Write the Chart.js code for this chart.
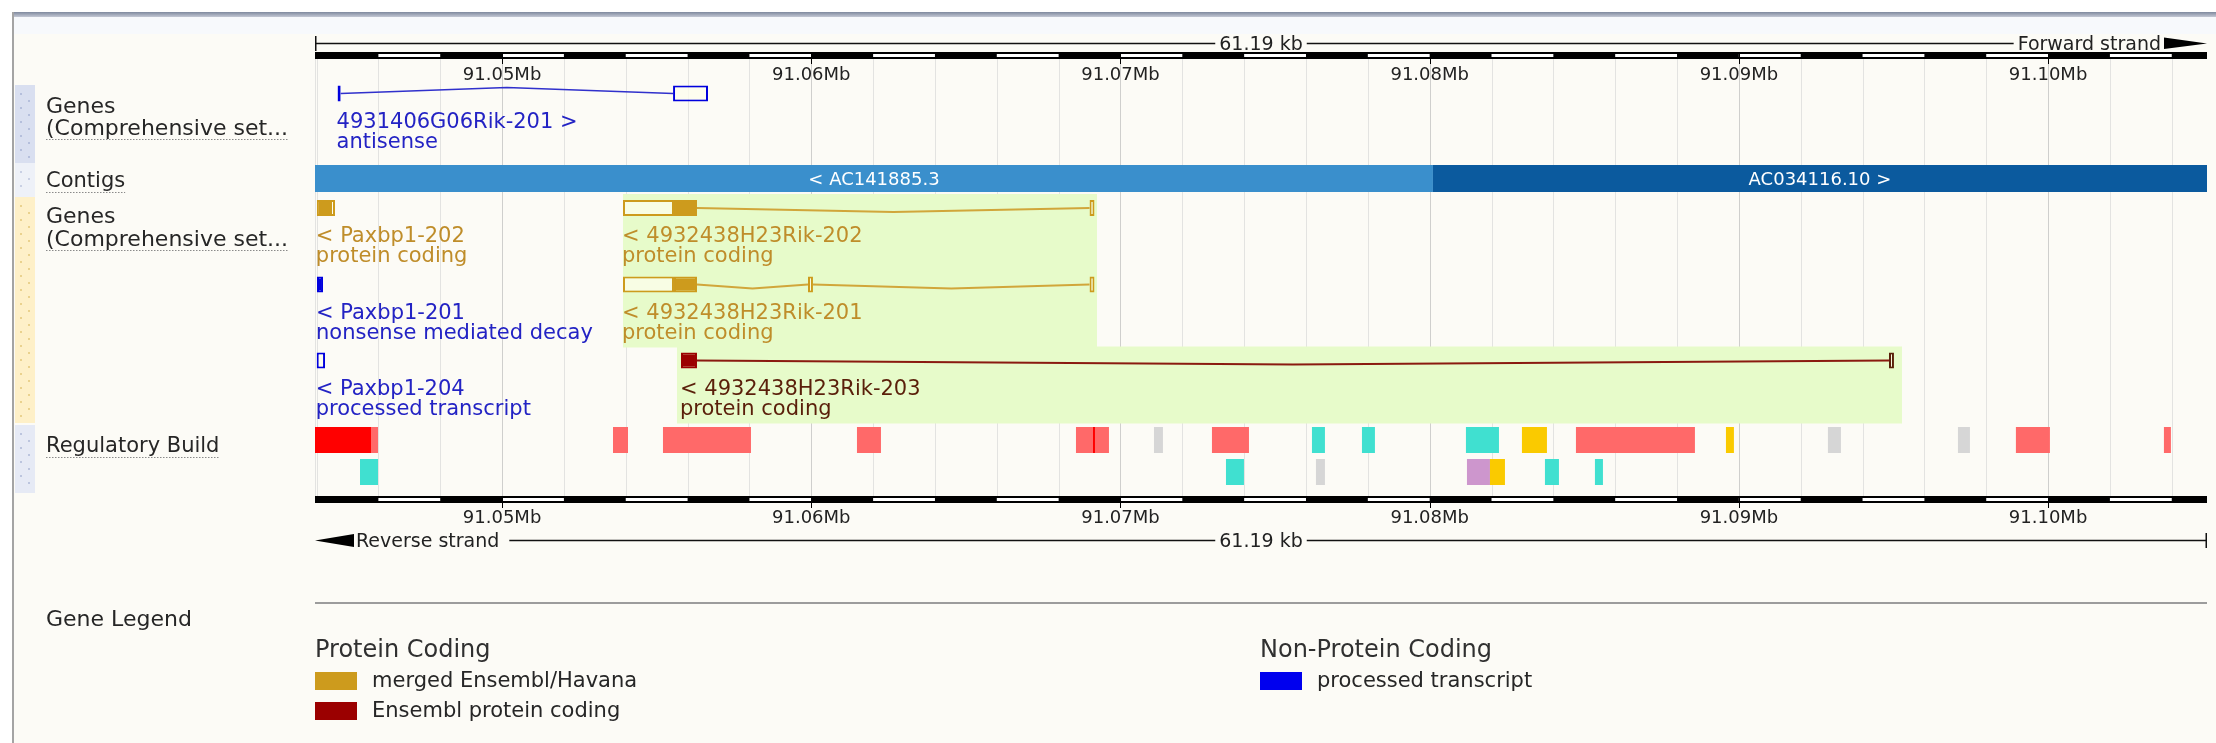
<!DOCTYPE html>
<html>
<head>
<meta charset="utf-8">
<script src="https://cdn.jsdelivr.net/npm/chart.js@4.4.1/dist/chart.umd.min.js"></script>
<style>
  html, body { margin: 0; padding: 0; background: #ffffff; overflow: hidden; }
  canvas { display: block; }
</style>
</head>
<body>
<canvas id="view" width="2216" height="743"></canvas>
<script>
// ---- Region shown (chromosome coordinates, bp) ----
const VIEW_START = 91043950;
const VIEW_END = 91105140;
const SPAN_LABEL = '61.19 kb';
const MINOR_STEP = 2000;
const MAJOR_TICKS = [91050000, 91060000, 91070000, 91080000, 91090000, 91100000];
const TICK_LABELS = ['91.05Mb', '91.06Mb', '91.07Mb', '91.08Mb', '91.09Mb', '91.10Mb'];

// ---- Contigs ----
const contigNames = ['< AC141885.3', 'AC034116.10 >'];
const contigStarts = [91020000, 91080106];
const contigEnds = [91080106, 91140000];
const contigKinds = ['light', 'dark'];

// ---- Transcripts ----
const transcriptNames = ['4931406G06Rik-201 >', '< Paxbp1-202', '< 4932438H23Rik-202', '< Paxbp1-201',
  '< 4932438H23Rik-201', '< Paxbp1-204', '< 4932438H23Rik-203'];
const transcriptBiotypes = ['antisense', 'protein coding', 'protein coding', 'nonsense mediated decay',
  'protein coding', 'processed transcript', 'protein coding'];
const transcriptSources = ['noncoding', 'merged', 'merged', 'noncoding', 'merged', 'noncoding', 'ensembl'];
const transcriptStrands = [1, -1, -1, -1, -1, -1, -1];
const transcriptRows = [0, 1, 1, 2, 2, 3, 3];
// exon pieces: [start, end, 'C' coding | 'U' untranslated]
const transcriptExons = [
  [[91044680, 91044780, 'U'], [91055530, 91056660, 'U']],
  [[91044010, 91044435, 'C'], [91044435, 91044597, 'U']],
  [[91053911, 91055560, 'U'], [91055560, 91056304, 'C'], [91069000, 91069160, 'U']],
  [[91044015, 91044210, 'C']],
  [[91053911, 91055560, 'U'], [91055560, 91056304, 'C'], [91059894, 91060055, 'U'], [91069000, 91069160, 'U']],
  [[91044005, 91044275, 'U']],
  [[91055787, 91056304, 'C'], [91094855, 91095016, 'U']]
];

// ---- Gene highlight extents (lower gene track) ----
const highlightStarts = [91053911, 91055657];
const highlightEnds = [91069241, 91095275];
const highlightFirstRow = [1, 3];
const highlightLastRow = [2, 3];

// ---- Regulatory Build ----
const regStarts = [91043950, 91045761, 91053587, 91055204, 91061478, 91068561, 91069111, 91071083, 91072959,
  91076193, 91077810, 91081173, 91082984, 91084731, 91089582, 91092880, 91097085, 91098960, 91103747,
  91045405, 91073412, 91076322, 91081206, 91081950, 91083728, 91085345];
const regEnds = [91045761, 91045987, 91054072, 91058050, 91062254, 91069628, 91069175, 91071374, 91074156,
  91076613, 91078230, 91082241, 91083793, 91088579, 91089840, 91093301, 91097473, 91100060, 91103973,
  91045987, 91073994, 91076613, 91081950, 91082435, 91084181, 91085604];
const regTypes = ['promoter', 'flank', 'flank', 'flank', 'flank', 'flank', 'promoter', 'open', 'flank',
  'ctcf', 'ctcf', 'ctcf', 'enhancer', 'flank', 'enhancer', 'open', 'open', 'flank', 'flank',
  'ctcf', 'ctcf', 'open', 'tf', 'enhancer', 'ctcf', 'ctcf'];
const regRows = [0, 0, 0, 0, 0, 0, 0, 0, 0, 0, 0, 0, 0, 0, 0, 0, 0, 0, 0, 1, 1, 1, 1, 1, 1, 1];

// ---- Legend ----
const legendGroups = ['Protein Coding', 'Non-Protein Coding'];
const legendItems = [['merged Ensembl/Havana', 'Ensembl protein coding'], ['processed transcript']];
const legendKinds = [['merged', 'ensembl'], ['processed']];

// ---- Styling / layout ----
const FONT = '"DejaVu Sans", Verdana, sans-serif';
const ROW_Y = [93.5, 208, 284.5, 360.5];
const REG_ROW_Y = [440, 472];
const EXON_H = 16;
const CONTIG_Y = 178.5, CONTIG_H = 27;
const SOURCE_FILL = { merged: '#cd9b1d', ensembl: '#9b0000', noncoding: '#0000dd', processed: '#0000ee' };
const SOURCE_LINE = { merged: '#d1a63a', ensembl: '#8a1a10', noncoding: '#3030cc' };
const SOURCE_TEXT = { merged: '#bf8d2a', ensembl: '#5a1f0a', noncoding: '#2323c4' };
const CONTIG_FILL = { light: '#3a8fcc', dark: '#0b5a9e' };
const REG_FILL = { promoter: '#ff0000', flank: '#ff6969', ctcf: '#40e0d0', enhancer: '#faca00',
  tf: '#cd96cd', open: '#d6d6d6' };
const HL_FILL = '#e7fbca';

// ---- Build datasets ----
const datasets = [];

// gene highlights, one dataset per block (different heights)
highlightStarts.forEach((s, i) => {
  const top = ROW_Y[highlightFirstRow[i]] - 14;
  const bottom = ROW_Y[highlightLastRow[i]] + 63;
  datasets.push({
    type: 'bar', indexAxis: 'y', grouped: false, order: 20,
    data: [{ x: [s, highlightEnds[i]], y: (top + bottom) / 2 }],
    barThickness: bottom - top, backgroundColor: HL_FILL, borderWidth: 0, inflateAmount: 0
  });
});

// contigs
datasets.push({
  type: 'bar', indexAxis: 'y', grouped: false, order: 15,
  data: contigStarts.map((s, i) => ({ x: [s, contigEnds[i]], y: CONTIG_Y })),
  barThickness: CONTIG_H,
  backgroundColor: contigKinds.map(k => CONTIG_FILL[k]), borderWidth: 0, inflateAmount: 0
});

// regulatory features
datasets.push({
  type: 'bar', indexAxis: 'y', grouped: false, order: 15,
  data: regStarts.map((s, i) => ({ x: [s, regEnds[i]], y: REG_ROW_Y[regRows[i]] })),
  barThickness: 26,
  backgroundColor: regTypes.map(t => REG_FILL[t]), borderWidth: 0, inflateAmount: 0
});

// introns as carets between consecutive exon pieces
transcriptExons.forEach((exons, t) => {
  const src = transcriptSources[t];
  const yc = ROW_Y[transcriptRows[t]];
  const lift = transcriptStrands[t] > 0 ? -6 : 4;
  for (let k = 1; k < exons.length; k++) {
    const a = exons[k - 1][1], b = exons[k][0];
    if (b <= a) continue;
    datasets.push({
      type: 'line', order: 8,
      data: [{ x: a, y: yc }, { x: (a + b) / 2, y: yc + lift }, { x: b, y: yc }],
      borderColor: SOURCE_LINE[src], borderWidth: src === 'noncoding' ? 1.6 : 2,
      pointRadius: 0, fill: false, tension: 0
    });
  }
});

// exons
const exonPts = [], exonFill = [], exonBorder = [];
transcriptExons.forEach((exons, t) => {
  const src = transcriptSources[t];
  const colour = SOURCE_FILL[src];
  exons.forEach(([s, e, kind]) => {
    exonPts.push({ x: [s, e], y: ROW_Y[transcriptRows[t]] });
    exonFill.push(kind === 'C' ? colour : 'rgba(253,253,236,0.75)');
    exonBorder.push(kind === 'C' ? colour : (src === 'ensembl' ? '#5a1f0a' : colour));
  });
});
datasets.push({
  type: 'bar', indexAxis: 'y', grouped: false, order: 2,
  data: exonPts, barThickness: EXON_H,
  backgroundColor: exonFill, borderColor: exonBorder, borderWidth: 2,
  borderSkipped: false, inflateAmount: 0
});

// ---- Drawing helpers ----
function label(ctx, s, x, y, size, colour, align) {
  ctx.font = size + 'px ' + FONT;
  ctx.fillStyle = colour;
  ctx.textAlign = align || 'left';
  ctx.textBaseline = 'alphabetic';
  ctx.fillText(s, x, y);
  return ctx.measureText(s).width;
}

function dottedUnderline(ctx, x, y, w) {
  ctx.save();
  ctx.strokeStyle = '#8a8a8a';
  ctx.lineWidth = 1;
  ctx.setLineDash([1.5, 1.5]);
  ctx.beginPath();
  ctx.moveTo(x, y + 0.5);
  ctx.lineTo(x + w, y + 0.5);
  ctx.stroke();
  ctx.restore();
}

function hline(ctx, x1, x2, y, colour, w) {
  ctx.strokeStyle = colour;
  ctx.lineWidth = w || 1;
  ctx.beginPath();
  ctx.moveTo(x1, y);
  ctx.lineTo(x2, y);
  ctx.stroke();
}

function drawBand(ctx, xs, bandY) {
  const L = xs.left, R = xs.right;
  ctx.fillStyle = '#000000';
  ctx.fillRect(L, bandY, R - L, 7);
  for (let p = Math.ceil(VIEW_START / MINOR_STEP) * MINOR_STEP; p < VIEW_END; p += MINOR_STEP) {
    if (Math.round(p / MINOR_STEP) % 2 === 1) {
      const a = xs.getPixelForValue(p);
      const b = xs.getPixelForValue(Math.min(p + MINOR_STEP, VIEW_END));
      ctx.fillStyle = '#ffffff';
      ctx.fillRect(a, bandY + 2, b - a, 3);
    }
  }
  MAJOR_TICKS.forEach(v => {
    const x = Math.round(xs.getPixelForValue(v)) + 0.5;
    ctx.strokeStyle = '#000000';
    ctx.lineWidth = 1;
    ctx.beginPath();
    ctx.moveTo(x, bandY + 1);
    ctx.lineTo(x, bandY + 12);
    ctx.stroke();
  });
}

const genomePlugin = {
  id: 'genomeView',
  beforeDraw(chart) {
    const ctx = chart.ctx, W = chart.width, H = chart.height;
    ctx.save();
    ctx.fillStyle = '#ffffff';
    ctx.fillRect(0, 0, W, H);
    ctx.fillStyle = '#fcfbf6';
    ctx.fillRect(14, 16, W - 14, H - 16);
    ctx.fillStyle = '#f7f9fc';
    ctx.fillRect(14, 16, W - 14, 18);
    // frame
    const g = ctx.createLinearGradient(0, 12, 0, 17);
    g.addColorStop(0, '#7f899e');
    g.addColorStop(1, '#c3c8d4');
    ctx.fillStyle = g;
    ctx.fillRect(12, 12, W - 12, 5);
    ctx.fillStyle = '#a4a4a4';
    ctx.fillRect(12, 12, 2, H - 12);
    // track strips at the left
    const strips = [[85, 163, '#d9dff0', '#b5bfdc'], [163, 197, '#eef1f8', '#c9d0e4'],
      [197, 423, '#fef0c8', '#ead28e'], [425, 493, '#e6eaf5', '#bcc5de']];
    strips.forEach(([y0, y1, fill, dot]) => {
      ctx.fillStyle = fill;
      ctx.fillRect(15, y0, 20, y1 - y0);
      ctx.fillStyle = dot;
      let k = 0;
      for (let y = y0 + 8; y < y1 - 6; y += 7, k++) {
        ctx.fillRect(k % 2 ? 28 : 20, y, 2, 2);
      }
    });
    ctx.restore();
  },
  beforeDatasetsDraw(chart) {
    const ctx = chart.ctx, xs = chart.scales.x;
    ctx.save();
    ctx.lineWidth = 1;
    const gridTop = 59, gridBottom = 496;
    ctx.strokeStyle = '#e3e3e1';
    ctx.beginPath();
    ctx.moveTo(xs.left + 0.5, gridTop);
    ctx.lineTo(xs.left + 0.5, gridBottom);
    ctx.stroke();
    for (let p = Math.ceil(VIEW_START / MINOR_STEP) * MINOR_STEP; p < VIEW_END; p += MINOR_STEP) {
      const x = Math.round(xs.getPixelForValue(p)) + 0.5;
      ctx.strokeStyle = p % 10000 === 0 ? '#cfcfcd' : '#e3e3e1';
      ctx.beginPath();
      ctx.moveTo(x, gridTop);
      ctx.lineTo(x, gridBottom);
      ctx.stroke();
    }
    ctx.restore();
  },
  afterDatasetsDraw(chart) {
    const ctx = chart.ctx, xs = chart.scales.x, ys = chart.scales.y;
    const L = xs.left, R = xs.right;
    const mid = xs.getPixelForValue((VIEW_START + VIEW_END) / 2);
    ctx.save();

    // ---- top ruler ----
    ctx.font = '19px ' + FONT;
    const spanW = ctx.measureText(SPAN_LABEL).width;
    const fwdW = ctx.measureText('Forward strand').width;
    const fwdRight = R - 46;
    hline(ctx, L, mid - spanW / 2 - 4, 43.5, '#111', 1.5);
    hline(ctx, mid + spanW / 2 + 4, fwdRight - fwdW - 4, 43.5, '#111', 1.5);
    ctx.strokeStyle = '#111';
    ctx.lineWidth = 1.5;
    ctx.beginPath(); ctx.moveTo(L + 0.75, 36); ctx.lineTo(L + 0.75, 51); ctx.stroke();
    label(ctx, SPAN_LABEL, mid, 50, 19, '#222', 'center');
    label(ctx, 'Forward strand', fwdRight, 50, 19, '#222', 'right');
    ctx.fillStyle = '#000';
    ctx.beginPath();
    ctx.moveTo(R - 43, 37.5); ctx.lineTo(R, 43.5); ctx.lineTo(R - 43, 49); ctx.closePath(); ctx.fill();
    drawBand(ctx, xs, 52);
    MAJOR_TICKS.forEach((v, i) => label(ctx, TICK_LABELS[i], xs.getPixelForValue(v), 80, 18, '#222', 'center'));

    // ---- bottom ruler ----
    drawBand(ctx, xs, 496);
    MAJOR_TICKS.forEach((v, i) => label(ctx, TICK_LABELS[i], xs.getPixelForValue(v), 523, 18, '#222', 'center'));
    ctx.fillStyle = '#000';
    ctx.beginPath();
    ctx.moveTo(L, 540.5); ctx.lineTo(L + 39, 534); ctx.lineTo(L + 39, 547); ctx.closePath(); ctx.fill();
    const revW = label(ctx, 'Reverse strand', L + 41, 547, 19, '#222', 'left');
    hline(ctx, L + 41 + revW + 10, mid - spanW / 2 - 4, 540.5, '#111', 1.5);
    label(ctx, SPAN_LABEL, mid, 547, 19, '#222', 'center');
    hline(ctx, mid + spanW / 2 + 4, R, 540.5, '#111', 1.5);
    ctx.strokeStyle = '#111';
    ctx.lineWidth = 1.5;
    ctx.beginPath(); ctx.moveTo(R - 0.75, 533); ctx.lineTo(R - 0.75, 548); ctx.stroke();

    // ---- contig names ----
    contigNames.forEach((n, i) => {
      const a = Math.max(L, xs.getPixelForValue(contigStarts[i]));
      const b = Math.min(R, xs.getPixelForValue(contigEnds[i]));
      label(ctx, n, (a + b) / 2, ys.getPixelForValue(CONTIG_Y) + 6.5, 18, '#ffffff', 'center');
    });

    // ---- transcript labels ----
    transcriptNames.forEach((n, t) => {
      const first = Math.min(...transcriptExons[t].map(e => e[0]));
      const x = Math.max(L, xs.getPixelForValue(first) - 1);
      const yc = ys.getPixelForValue(ROW_Y[transcriptRows[t]]);
      const colour = SOURCE_TEXT[transcriptSources[t]];
      label(ctx, n, x, yc + 34, 21, colour, 'left');
      label(ctx, transcriptBiotypes[t], x, yc + 54, 21, colour, 'left');
    });

    // ---- track names ----
    const TX = 46;
    label(ctx, 'Genes', TX, 113, 22, '#262626');
    let w = label(ctx, '(Comprehensive set...', TX, 135, 22, '#262626');
    dottedUnderline(ctx, TX, 139, w);
    w = label(ctx, 'Contigs', TX, 187, 21, '#262626');
    dottedUnderline(ctx, TX, 192, w);
    label(ctx, 'Genes', TX, 223, 22, '#262626');
    w = label(ctx, '(Comprehensive set...', TX, 246, 22, '#262626');
    dottedUnderline(ctx, TX, 250, w);
    w = label(ctx, 'Regulatory Build', TX, 452, 21, '#262626');
    dottedUnderline(ctx, TX, 457, w);

    // ---- gene legend ----
    hline(ctx, L, R, 603, '#9c9c9c', 2);
    label(ctx, 'Gene Legend', TX, 626, 22, '#262626');
    const colX = [L, 1260];
    legendGroups.forEach((grp, gi) => {
      label(ctx, grp, colX[gi], 657, 24, '#303030');
      legendItems[gi].forEach((item, k) => {
        const y0 = 672 + k * 30;
        ctx.fillStyle = SOURCE_FILL[legendKinds[gi][k]];
        ctx.fillRect(colX[gi], y0, 42, 18);
        label(ctx, item, colX[gi] + 57, y0 + 15, 21, '#262626');
      });
    });
    ctx.restore();
  }
};

new Chart(document.getElementById('view'), {
  type: 'bar',
  data: { datasets },
  options: {
    responsive: false,
    animation: false,
    devicePixelRatio: 1,
    events: [],
    layout: { padding: { left: 315, right: 9, top: 0, bottom: 0 } },
    scales: {
      x: { type: 'linear', min: VIEW_START, max: VIEW_END, offset: false, grid: { offset: false }, display: false },
      y: { type: 'linear', min: 0, max: 743, reverse: true, offset: false, grid: { offset: false }, display: false }
    },
    plugins: { legend: { display: false }, tooltip: { enabled: false } }
  },
  plugins: [genomePlugin]
});
</script>
</body>
</html>
